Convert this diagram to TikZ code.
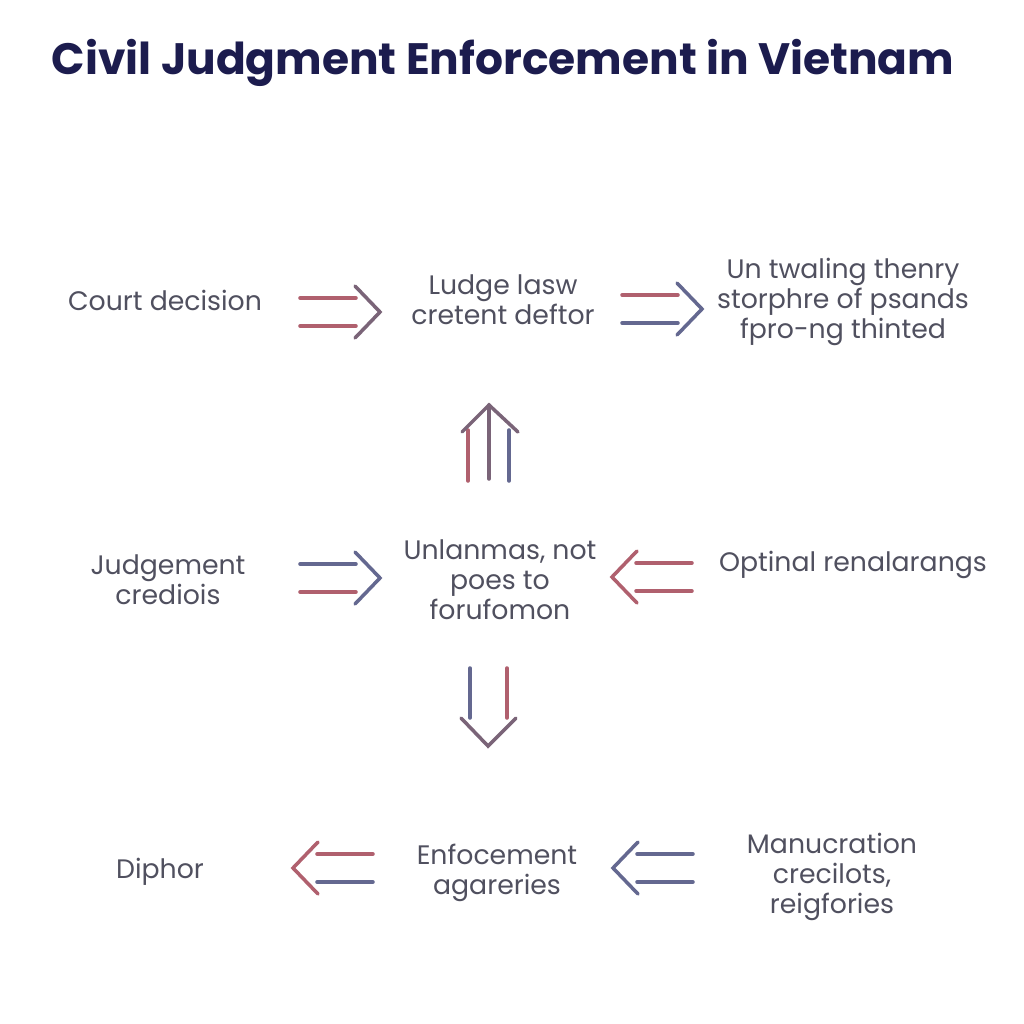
\documentclass[tikz,border=0pt]{standalone}
\usepackage{fontspec}
\setmainfont{Poppins}
\definecolor{titlec}{HTML}{1C1C4E}
\definecolor{txtc}{HTML}{50505F}
\definecolor{redc}{HTML}{B0606E}
\definecolor{bluec}{HTML}{646890}
\definecolor{midc}{HTML}{7A6478}
\tikzset{
  lbl/.style={text=txtc, font=\fontsize{7.6}{8.55}\selectfont, align=center, inner sep=0pt},
  ttl/.style={text=titlec, font=\fontsize{12.5}{15}\selectfont\bfseries, inner sep=0pt},
  shaft/.style={line width=1pt, line cap=round},
  pics/dbl/.style n args={3}{code={
    \draw[shaft,#1] (-80,-14) -- (-24,-14);
    \draw[shaft,#2] (-80,14) -- (-24,14);
    \draw[shaft,#3,line join=miter] (-25,-26) -- (0,0) -- (-25,26);
  }}
}
\begin{document}
\begin{tikzpicture}[x=0.01cm,y=-0.01cm]
\useasboundingbox[fill=white] (0,0) rectangle (1024,1024);
\node[ttl] (title) at (503,63) {Civil Judgment Enforcement in Vietnam};

\node[lbl] (court) at (165,300) {Court decision};
\node[lbl] (ludge) at (503,300) {Ludge lasw\\cretent deftor};
\node[lbl] (untw) at (843,302) {Un twaling thenry\\storphre of psands\\fpro-ng thinted};
\node[lbl] (judg) at (168,580) {Judgement\\crediois};
\node[lbl] (unlan) at (500,580) {Unlanmas, not\\poes to\\forufomon};
\node[lbl] (opt) at (853,565) {Optinal renalarangs};
\node[lbl] (diph) at (160,872) {Diphor};
\node[lbl] (enf) at (497,873) {Enfocement\\agareries};
\node[lbl] (manu) at (832,877) {Manucration\\crecilots,\\reigfories};

% row 1
\coordinate (t1) at (380,312);
\coordinate (t2) at (702,309);
\pic at (t1) {dbl={redc}{redc}{midc}};
\pic at (t2) {dbl={redc}{bluec}{bluec}};

% up arrow (three shafts)
\coordinate (tu) at (489,405);
\draw[shaft,redc] (468,430) -- (468,481);
\draw[shaft,midc] (tu) -- (489,479);
\draw[shaft,bluec] (509,430) -- (509,481);
\draw[shaft,midc,line join=miter] (462,432) -- (tu) -- (518,432);

% row 2
\coordinate (t3) at (380,578);
\coordinate (t4) at (612,577);
\pic at (t3) {dbl={bluec}{redc}{bluec}};
\pic[rotate=180] at (t4) {dbl={redc}{redc}{redc}};

% down arrow
\coordinate (td) at (488,746);
\draw[shaft,bluec] (470,668) -- (470,718);
\draw[shaft,redc] (507,668) -- (507,718);
\draw[shaft,midc,line join=miter] (461,718) -- (td) -- (516,718);

% row 3
\coordinate (t5) at (293,868);
\coordinate (t6) at (613,868);
\pic[rotate=180] at (t5) {dbl={bluec}{redc}{redc}};
\pic[rotate=180] at (t6) {dbl={bluec}{bluec}{bluec}};
\end{tikzpicture}
\end{document}
